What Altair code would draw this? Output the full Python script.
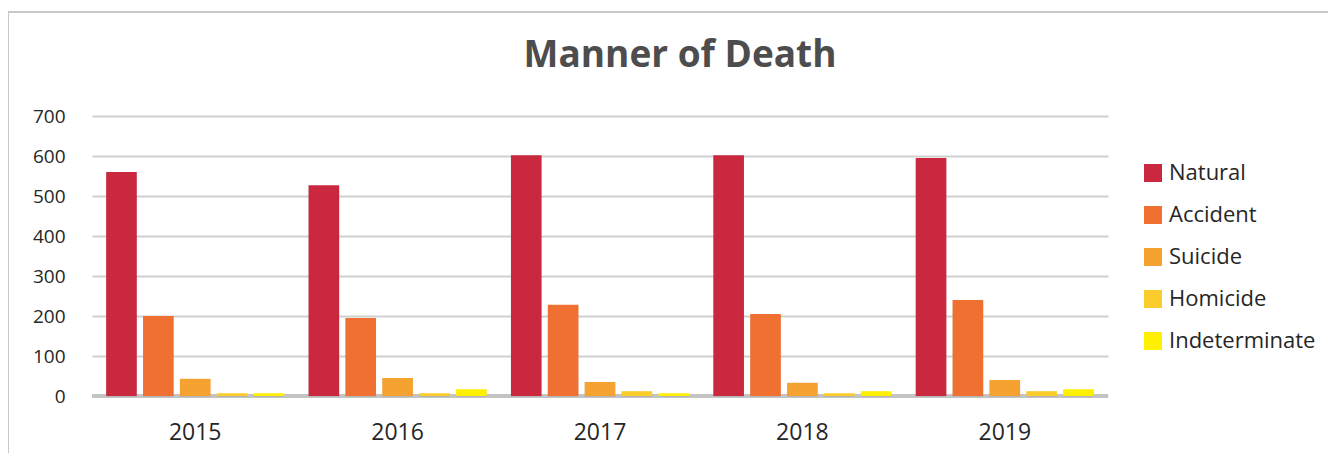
import altair as alt
import pandas as pd

years = ["2015", "2016", "2017", "2018", "2019"]
manners = ["Natural", "Accident", "Suicide", "Homicide", "Indeterminate"]
natural = [560, 527, 602, 602, 595]
accident = [200, 195, 228, 205, 240]
suicide = [43, 45, 35, 33, 40]
homicide = [7, 7, 12, 7, 12]
indeterminate = [7, 17, 7, 12, 17]
colors = ["#C9283F", "#EF7030", "#F5A231", "#FBCD2C", "#FFEF00"]
y_ticks = [0, 100, 200, 300, 400, 500, 600, 700]
title_text = "Manner of Death"

series = [natural, accident, suicide, homicide, indeterminate]
rows = []
for m, vals in zip(manners, series):
    for y, v in zip(years, vals):
        rows.append({"Year": y, "Manner": m, "Count": v, "Zero": 0})
df = pd.DataFrame(rows)

FONT = "Open Sans"

x_scale = alt.Scale(paddingInner=0.12, paddingOuter=0.07)
y_scale = alt.Scale(domain=[0, 700])
x_ax = alt.Axis(labelAngle=0, labelFontSize=23, labelColor="#262626",
                labelFont=FONT, labelPadding=25, ticks=False, domain=False, grid=False)
y_ax = alt.Axis(values=y_ticks, labelOverlap=False,
                labelFontSize=19, labelColor="#262626", labelFont=FONT,
                labelPadding=27, ticks=False, domain=False, grid=True,
                gridColor="#d0d0d0", gridWidth=2)

X = alt.X("Year:N", sort=years, title=None, scale=x_scale, axis=x_ax)
XO = alt.XOffset("Manner:N", sort=manners,
                 scale=alt.Scale(paddingInner=0.17, paddingOuter=0))
Y = alt.Y("Count:Q", title=None, scale=y_scale, axis=y_ax)

shadow = alt.Chart(df).mark_bar(color="#9a9a9a", opacity=0.35, xOffset=3, yOffset=1).encode(
    x=X, xOffset=XO, y=Y
)

bars = alt.Chart(df).mark_bar().encode(
    x=X, xOffset=XO, y=Y,
    color=alt.Color("Manner:N", sort=manners,
                    scale=alt.Scale(domain=manners, range=colors),
                    legend=alt.Legend(title=None, orient="none", legendX=1050, legendY=46,
                                      symbolType="square", symbolSize=324,
                                      symbolStrokeWidth=0, labelFontSize=22,
                                      labelFont=FONT, labelColor="#262626",
                                      labelOffset=5, rowPadding=20))
)

baseline = alt.Chart(df).mark_rule(color="#c4c4c4", strokeWidth=3).encode(
    y=alt.Y("Zero:Q", title=None, scale=y_scale, axis=y_ax),
    x=alt.value(0), x2=alt.value(1016)
)

frame = pd.DataFrame({"k": [0]})
left_border = alt.Chart(frame).mark_rule(color="#c8c8c8", strokeWidth=2).encode(
    x=alt.value(-84), y=alt.value(-104), y2=alt.value(400)
)
top_border = alt.Chart(frame).mark_rule(color="#c8c8c8", strokeWidth=2).encode(
    x=alt.value(-84), x2=alt.value(1250), y=alt.value(-104)
)
title = alt.Chart(frame).mark_text(
    text=title_text, fontSize=37, fontWeight="bold", font=FONT, color="#4d4d4d",
    align="center", baseline="alphabetic"
).encode(x=alt.value(588), y=alt.value(-49))

chart = alt.layer(left_border, top_border, baseline, shadow, bars, title).properties(
    width=1016, height=280,
    background="white",
    autosize=alt.AutoSizeParams(type="none"),
    padding={"left": 84, "top": 108, "right": 220, "bottom": 57},
).configure_view(strokeWidth=0, stroke="transparent")

chart.save("out.html", embed_options={"renderer": "svg", "actions": False})
